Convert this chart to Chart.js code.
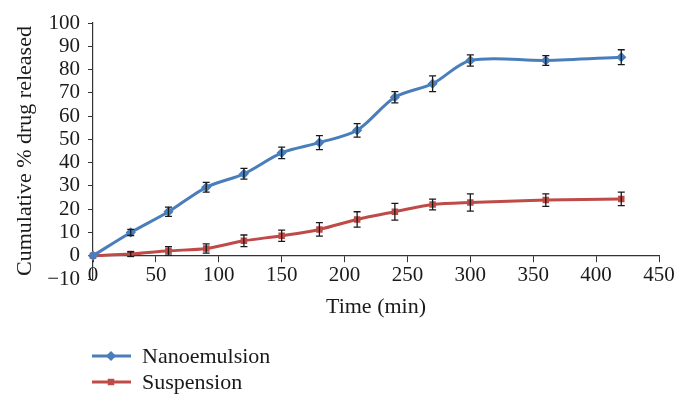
<!DOCTYPE html>
<html>
<head>
<meta charset="utf-8">
<script src="https://cdn.jsdelivr.net/npm/chart.js@4"></script>
<style>
  body { margin: 0; background: #fff; }
  .wrap { width: 684px; height: 408px; }
</style>
</head>
<body>
<div class="wrap"><canvas class="chart"></canvas></div>
<script>
// release data (time in min, % released)
const timePoints = [0, 30, 60, 90, 120, 150, 180, 210, 240, 270, 300, 360, 420];
const nanoValues = [0, 10.0, 18.9, 29.4, 35.2, 44.2, 48.6, 53.9, 68.1, 73.9, 83.9, 83.9, 85.3];
const nanoErrors = [0, 1.3, 2.0, 2.1, 2.3, 2.5, 3.0, 2.9, 2.4, 3.4, 2.4, 2.1, 3.2];
const suspValues = [0, 0.7, 2.1, 3.1, 6.4, 8.6, 11.3, 15.6, 18.9, 22.0, 22.9, 23.9, 24.4];
const suspErrors = [0, 1.0, 1.8, 2.0, 2.5, 2.4, 2.9, 3.3, 3.6, 2.3, 3.7, 2.7, 2.9];
const seriesNames = ['Nanoemulsion', 'Suspension'];
const errorSets = [nanoErrors, suspErrors];

const serif = "'Liberation Serif', 'DejaVu Serif', serif";
const ink = '#1a1a1a';

function toPoints(values) {
    return timePoints.map((t, i) => ({ x: t, y: values[i] }));
}

// black error bars with caps, drawn over the lines
const errorBars = {
    id: 'errorBars',
    afterDatasetsDraw(chart) {
        const ctx = chart.ctx;
        const xs = chart.scales.x;
        const ys = chart.scales.y;
        ctx.save();
        ctx.strokeStyle = ink;
        ctx.lineWidth = 1.3;
        chart.data.datasets.forEach((ds, d) => {
            ds.data.forEach((p, i) => {
                const e = errorSets[d][i];
                if (!e) return;
                const x = xs.getPixelForValue(p.x);
                const top = ys.getPixelForValue(p.y + e);
                const bot = ys.getPixelForValue(p.y - e);
                ctx.beginPath();
                ctx.moveTo(x, top); ctx.lineTo(x, bot);
                ctx.moveTo(x - 3.5, top); ctx.lineTo(x + 3.5, top);
                ctx.moveTo(x - 3.5, bot); ctx.lineTo(x + 3.5, bot);
                ctx.stroke();
            });
        });
        ctx.restore();
    }
};

// legend stacked in a column under the plot, line + marker like the original
const stackedLegend = {
    id: 'stackedLegend',
    afterDraw(chart) {
        const ctx = chart.ctx;
        const area = chart.chartArea;
        const x0 = area.left - 1;
        ctx.save();
        chart.data.datasets.forEach((ds, i) => {
            const y = area.bottom + 77 + i * 26;
            ctx.strokeStyle = ds.borderColor;
            ctx.lineWidth = 3;
            ctx.beginPath();
            ctx.moveTo(x0, y);
            ctx.lineTo(x0 + 39, y);
            ctx.stroke();
            ctx.fillStyle = ds.backgroundColor;
            ctx.strokeStyle = ds.borderColor;
            Chart.helpers.drawPoint(ctx, {
                pointStyle: ds.pointStyle, radius: ds.pointRadius, rotation: 0, borderWidth: 1
            }, x0 + 19, y);
            ctx.fillStyle = ink;
            ctx.font = '22px ' + serif;
            ctx.textBaseline = 'middle';
            ctx.textAlign = 'left';
            ctx.fillText(ds.label, x0 + 50, y + 1);
        });
        ctx.restore();
    }
};

const ctx = document.querySelector('.chart');

const displayedChart = new Chart(ctx, {
    type: 'line',
    data: {
        datasets: [{
            label: seriesNames[0],
            data: toPoints(nanoValues),
            borderColor: '#4a7ebb',
            backgroundColor: '#4a7ebb',
            borderWidth: 3,
            pointStyle: 'rectRot',
            pointRadius: 3,
            tension: 0.3,
            clip: false
        }, {
            label: seriesNames[1],
            data: toPoints(suspValues),
            borderColor: '#be4b48',
            backgroundColor: '#be4b48',
            borderWidth: 3,
            pointStyle: 'rect',
            pointRadius: 2.5,
            tension: 0.3,
            clip: false
        }]
    },
    options: {
        responsive: true,
        maintainAspectRatio: false,
        animation: false,
        layout: { padding: { left: 0, right: 25, top: 23, bottom: 129 } },
        plugins: {
            legend: { display: false },
            tooltip: { enabled: false }
        },
        scales: {
            x: {
                type: 'linear',
                position: { y: 0 },
                min: 0,
                max: 450,
                afterFit: scale => { scale.height = 65; },
                ticks: {
                    stepSize: 50,
                    autoSkip: false,
                    padding: 1,
                    color: ink,
                    font: { family: serif, size: 21 }
                },
                grid: { drawOnChartArea: false, tickLength: 6, color: '#333' },
                border: { color: '#333', width: 1.2 },
                title: {
                    display: true,
                    text: 'Time (min)',
                    color: ink,
                    padding: 0,
                    font: { family: serif, size: 22 }
                }
            },
            y: {
                min: -10,
                max: 100,
                afterFit: scale => { scale.width = 93; },
                ticks: {
                    stepSize: 10,
                    autoSkip: false,
                    padding: 8,
                    color: ink,
                    font: { family: serif, size: 21 },
                    callback: v => String(v).replace('-', '\u2212')
                },
                grid: { drawOnChartArea: false, tickLength: 5, color: '#333' },
                border: { color: '#333', width: 1.2 },
                title: {
                    display: true,
                    text: 'Cumulative % drug released',
                    color: ink,
                    padding: { top: 12, bottom: 0 },
                    font: { family: serif, size: 22 }
                }
            }
        }
    },
    plugins: [errorBars, stackedLegend]
});
</script>
</body>
</html>
